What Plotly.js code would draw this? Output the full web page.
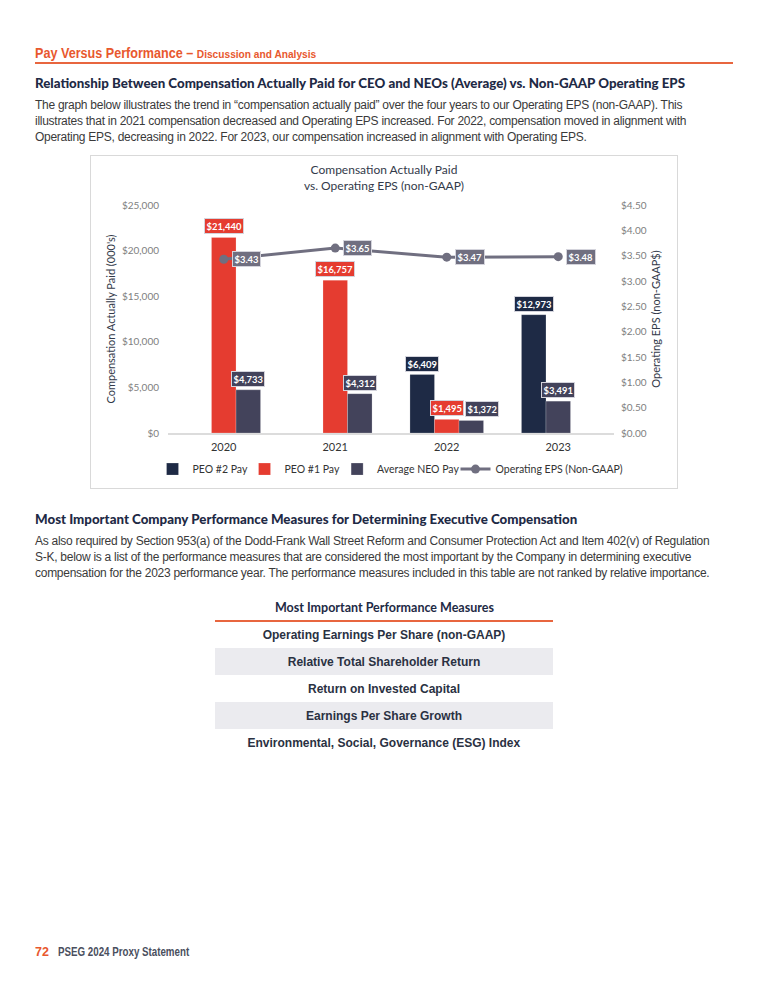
<!DOCTYPE html>
<html><head><meta charset="utf-8">
<script src="https://cdn.plot.ly/plotly-3.0.1.min.js"></script>
<style>
body{margin:0;width:768px;height:1000px;position:relative;background:#fff;font-family:"Liberation Sans",Arial,sans-serif;overflow:hidden;}
.abs{position:absolute;margin:0;}
#hdr{left:35px;top:45px;line-height:16px;color:#e8582e;font-family:"Liberation Sans Narrow","Arial Narrow","Liberation Sans",sans-serif;font-weight:bold;font-size:14px;white-space:nowrap;transform:scaleX(0.9);transform-origin:left center;}
#hdr span{font-size:11.3px;}
#rule{left:35px;top:62px;width:698px;height:2px;background:#e8663f;}
.h2{left:35px;font-family:Lato,sans-serif;font-weight:900;font-size:13.3px;line-height:16px;color:#1e2a45;white-space:nowrap;}
.p{left:35px;width:740px;font-size:12px;letter-spacing:-0.27px;line-height:16px;color:#3a3a3a;white-space:nowrap;}
#chart{left:90px;top:155px;width:586px;height:332px;border:1px solid #d9d9d9;}
#tbl{left:215px;top:596px;width:338px;height:162px;}
#foot{left:35px;top:944px;line-height:16px;font-size:12.5px;font-weight:bold;white-space:nowrap;font-family:"Liberation Sans Narrow","Arial Narrow","Liberation Sans",sans-serif;}
#foot .n{color:#e8582e;display:inline-block;width:23px;}
#foot .t{color:#4a4f5e;display:inline-block;transform:scaleX(0.78);transform-origin:left center;}
</style>
</head><body>
<div id="hdr" class="abs">Pay Versus Performance – <span>Discussion and Analysis</span></div>
<div id="rule" class="abs"></div>
<div class="abs h2" style="top:75px;">Relationship Between Compensation Actually Paid for CEO and NEOs (Average) vs. Non-GAAP Operating EPS</div>
<div class="abs p" style="top:97px;">The graph below illustrates the trend in “compensation actually paid” over the four years to our Operating EPS (non-GAAP). This<br>illustrates that in 2021 compensation decreased and Operating EPS increased. For 2022, compensation moved in alignment with<br>Operating EPS, decreasing in 2022. For 2023, our compensation increased in alignment with Operating EPS.</div>
<div id="chart" class="abs"></div>
<div class="abs h2" style="top:511px;">Most Important Company Performance Measures for Determining Executive Compensation</div>
<div class="abs p" style="top:533px;">As also required by Section 953(a) of the Dodd-Frank Wall Street Reform and Consumer Protection Act and Item 402(v) of Regulation<br>S-K, below is a list of the performance measures that are considered the most important by the Company in determining executive<br>compensation for the 2023 performance year. The performance measures included in this table are not ranked by relative importance.</div>
<div id="tbl" class="abs"></div>
<div id="foot" class="abs"><span class="n">72</span><span class="t">PSEG 2024 Proxy Statement</span></div>
<script>
// ---- data ----
const years = ['2020', '2021', '2022', '2023'];
const peo2Pay = [null, null, 6409, 12973];
const peo1Pay = [21440, 16757, 1495, null];
const neoPay = [4733, 4312, 1372, 3491];
const opEps = [3.43, 3.65, 3.47, 3.48];
const measureTitle = 'Most Important Performance Measures';
const measures = [
  'Operating Earnings Per Share (non-GAAP)',
  'Relative Total Shareholder Return',
  'Return on Invested Capital',
  'Earnings Per Share Growth',
  'Environmental, Social, Governance (ESG) Index'
];

// ---- styles ----
const C_NAVY = '#1e2a45', C_RED = '#e53c30', C_NEO = '#43435b', C_EPS = '#706f80';
const FONT = 'Lato, "Open Sans", sans-serif';
const W = 0.22; // bar width in category units
const LEGEND_X = [0.105, 0.262, 0.42, 0.622]; // one single-entry legend per series

// slot logic: PEO#2 left, PEO#1 middle, NEO right after the last CEO bar
function slotCenters(i) {
  const last = peo1Pay[i] != null ? 1 : (peo2Pay[i] != null ? 0 : -1);
  return [-W, 0, last * W];
}
const series = [
  {name: 'PEO #2 Pay', vals: peo2Pay, color: C_NAVY, k: 0},
  {name: 'PEO #1 Pay', vals: peo1Pay, color: C_RED, k: 1},
  {name: 'Average NEO Pay', vals: neoPay, color: C_NEO, k: 2}
];
const legendIds = ['legend', 'legend2', 'legend3', 'legend4'];
const traces = [];
const annotations = [];
const lblFont = {family: FONT, size: 9.4, color: '#ffffff', weight: 700};
series.forEach(s => {
  const offs = years.map((y, i) => slotCenters(i)[s.k] - W / 2);
  traces.push({
    type: 'bar', name: s.name, x: years, y: s.vals, width: W, offset: offs,
    marker: {color: s.color, line: {color: 'rgba(255,255,255,0.35)', width: 0.6}},
    legend: legendIds[s.k], showlegend: true,
    hoverinfo: 'skip'
  });
  s.vals.forEach((v, i) => {
    if (v == null) return;
    // avoid overlap of neighbouring low labels
    let xs = 0;
    if (s.k === 2 && peo1Pay[i] != null && Math.abs(peo1Pay[i] - v) < 1500) xs = 11;
    annotations.push({
      x: i + slotCenters(i)[s.k], y: v, xref: 'x', yref: 'y',
      text: '$' + v.toLocaleString('en-US'), showarrow: false,
      yanchor: 'bottom', yshift: 3, xshift: xs,
      bgcolor: s.color, bordercolor: '#d4d4dc', borderwidth: 1, borderpad: 1.5,
      font: lblFont
    });
  });
});
traces.push({
  type: 'scatter', mode: 'lines+markers', name: 'Operating EPS (Non-GAAP)',
  x: years, y: opEps, yaxis: 'y2',
  line: {color: C_EPS, width: 3}, marker: {color: C_EPS, size: 9},
  legend: 'legend4', showlegend: true,
  hoverinfo: 'skip'
});
opEps.forEach((v, i) => {
  annotations.push({
    x: i, y: v, xref: 'x', yref: 'y2', text: '$' + v.toFixed(2), showarrow: false,
    xanchor: 'left', xshift: 8, yanchor: 'middle',
    bgcolor: C_EPS, bordercolor: '#d4d4dc', borderwidth: 1, borderpad: 1.5,
    font: lblFont
  });
});

const tickFont = {family: FONT, size: 10, color: '#808080'};
const layout = {
  width: 586, height: 332,
  margin: {l: 77, r: 63, t: 49, b: 55},
  paper_bgcolor: '#ffffff', plot_bgcolor: '#ffffff',
  barmode: 'overlay',
  showlegend: true,
  font: {family: FONT, color: '#333333'},
  title: {
    text: 'Compensation Actually Paid<br>vs. Operating EPS (non-GAAP)',
    font: {family: FONT, size: 12, color: '#333a4a'},
    x: 0.5, xanchor: 'center', y: 0.945, yanchor: 'top', yref: 'container'
  },
  xaxis: {
    type: 'category', range: [-0.5, 3.5], showgrid: false, zeroline: false,
    showline: true, linecolor: '#dcdcdc', linewidth: 2,
    ticks: '', tickfont: {family: FONT, size: 11, color: '#333333'}, ticklabelstandoff: 3
  },
  yaxis: {
    range: [0, 25000], tickvals: [0, 5000, 10000, 15000, 20000, 25000],
    tickformat: '$,.0f', showgrid: false, zeroline: false, showline: false,
    ticks: '', tickfont: tickFont, ticklabelstandoff: 8,
    title: {text: "Compensation Actually Paid (000's)", font: {family: FONT, size: 11, color: '#333a4a'}, standoff: 4}
  },
  yaxis2: {
    overlaying: 'y', side: 'right', range: [0, 4.5], dtick: 0.5, tick0: 0,
    tickformat: '$.2f', showgrid: false, zeroline: false, showline: false,
    ticks: '', tickfont: tickFont, ticklabelstandoff: 6,
    title: {text: 'Operating EPS (non-GAAP$)', font: {family: FONT, size: 11, color: '#333a4a'}, standoff: 6}
  },
  annotations: annotations
};
legendIds.forEach((id, k) => {
  layout[id] = {
    orientation: 'h', xref: 'container', x: LEGEND_X[k], xanchor: 'left',
    yref: 'container', y: 0.057, yanchor: 'middle', bgcolor: 'rgba(0,0,0,0)',
    font: {family: FONT, size: 10.5, color: '#333333'}, itemwidth: 30, visible: true
  };
});
Plotly.newPlot('chart', traces, layout, {displayModeBar: false, staticPlot: true});

// ---- table (rows drawn as full-width horizontal bars) ----
const HDR_H = 22, ROW_H = 27, TBL_H = 162;
const TOP = 25, BOT = TBL_H - TOP - ROW_H * measures.length;
const tblTrace = {
  type: 'bar', orientation: 'h',
  y: measures, x: measures.map(() => 1),
  text: measures, textposition: 'inside', insidetextanchor: 'middle',
  constraintext: 'none',
  textfont: {family: '"Liberation Sans", Arial, sans-serif', size: 12, color: '#2a3142', weight: 700},
  marker: {color: measures.map((m, i) => i % 2 === 1 ? '#ebebef' : '#ffffff'), line: {width: 0}},
  hoverinfo: 'skip'
};
const tblLayout = {
  width: 338, height: TBL_H, margin: {l: 0, r: 0, t: TOP, b: BOT},
  paper_bgcolor: 'rgba(0,0,0,0)', plot_bgcolor: 'rgba(0,0,0,0)',
  bargap: 0, showlegend: false,
  xaxis: {range: [0, 1], visible: false, fixedrange: true},
  yaxis: {type: 'category', autorange: 'reversed', visible: false},
  annotations: [{
    text: '<b>' + measureTitle + '</b>', xref: 'paper', yref: 'paper', x: 0.5, y: 1,
    xanchor: 'center', yanchor: 'middle', yshift: TOP - 11, showarrow: false,
    font: {family: FONT, size: 12.5, color: '#1e2a45'}
  }],
  shapes: [{type: 'line', xref: 'paper', yref: 'paper', x0: 0, x1: 1,
    y0: 1, y1: 1, line: {color: '#e8663f', width: 2}}]
};
Plotly.newPlot('tbl', [tblTrace], tblLayout, {displayModeBar: false, staticPlot: true});
</script>
</body></html>
